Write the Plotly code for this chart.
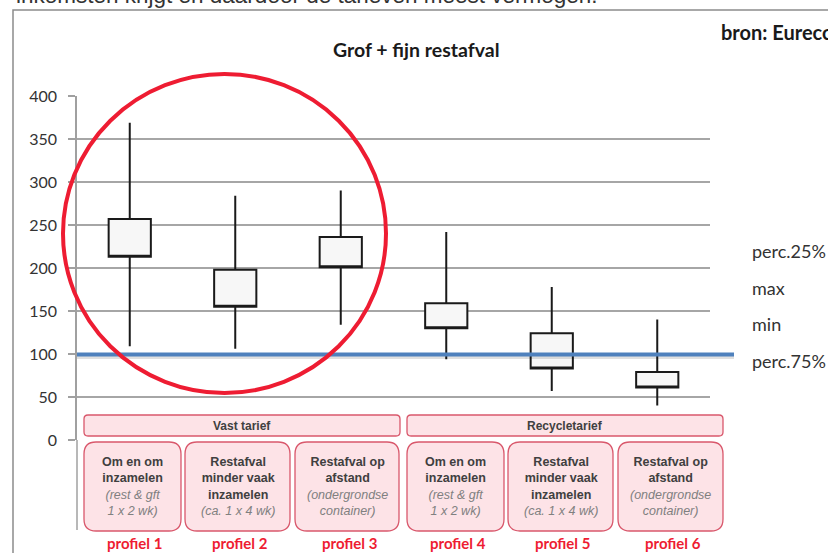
import plotly.graph_objects as go

# stock-style chart values
categories = ["profiel 1", "profiel 2", "profiel 3", "profiel 4", "profiel 5", "profiel 6"]
perc_25 = [213, 155, 201, 130, 83, 61]
perc_75 = [257, 198, 236, 159, 124, 79]
maximum = [369, 284, 290, 242, 178, 140]
minimum = [109, 106, 134, 94, 57, 40]
threshold = 99.5
y_ticks = [0, 50, 100, 150, 200, 250, 300, 350, 400]

groups = ["Vast tarief", "Recycletarief"]
box_titles = [
    "Om en om<br>inzamelen",
    "Restafval<br>minder vaak<br>inzamelen",
    "Restafval op<br>afstand",
] * 2
box_notes = ["(rest & gft<br>1 x 2 wk)", "(ca. 1 x 4 wk)", "(ondergrondse<br>container)"] * 2
legend_labels = ["perc.25%", "max", "min", "perc.75%"]

W, H = 828, 553
L, R, T, B = 77, 710, 96, 440


def px(x):
    return (x - L) / (R - L)


def py(y):
    return (B - y) / (B - T)


def rounded(x0, y0, x1, y1, r):
    p = [
        f"M {px(x0 + r)},{py(y0)}", f"L {px(x1 - r)},{py(y0)}",
        f"Q {px(x1)},{py(y0)} {px(x1)},{py(y0 + r)}", f"L {px(x1)},{py(y1 - r)}",
        f"Q {px(x1)},{py(y1)} {px(x1 - r)},{py(y1)}", f"L {px(x0 + r)},{py(y1)}",
        f"Q {px(x0)},{py(y1)} {px(x0)},{py(y1 - r)}", f"L {px(x0)},{py(y0 + r)}",
        f"Q {px(x0)},{py(y0)} {px(x0 + r)},{py(y0)}", "Z",
    ]
    return " ".join(p)


fig = go.Figure()
fig.add_trace(
    go.Box(
        x=categories,
        q1=perc_25,
        median=perc_25,
        q3=perc_75,
        lowerfence=minimum,
        upperfence=maximum,
        width=0.4,
        whiskerwidth=0,
        fillcolor="#f7f7f7",
        line={"color": "#1a1a1a", "width": 2},
        boxpoints=False,
        showlegend=False,
    )
)

shapes = []
# outer slide frame
shapes.append(dict(type="rect", xref="paper", yref="paper", x0=px(13), x1=px(900), y0=py(600), y1=py(10),
                   line={"color": "#8c8c8c", "width": 1.5}, layer="below"))
# axis line running down past the plot
shapes.append(dict(type="line", xref="paper", yref="paper", x0=0, x1=0, y0=py(440), y1=py(530),
                   line={"color": "#a0a0a0", "width": 1.5}))
# blue reference line with soft shadow
shapes.append(dict(type="line", xref="paper", yref="y", x0=0, x1=px(734), y0=threshold - 3.5, y1=threshold - 3.5,
                   line={"color": "rgba(0,0,0,0.12)", "width": 3}))
shapes.append(dict(type="line", xref="paper", yref="y", x0=0, x1=px(734), y0=threshold, y1=threshold,
                   line={"color": "#4f81bd", "width": 4}))
# red ellipse
shapes.append(dict(type="circle", xref="paper", yref="paper", x0=px(63), x1=px(386), y0=py(393), y1=py(74),
                   line={"color": "#ee1c32", "width": 4}))

pink = "#fde3e7"
edge = "#d9586c"
header_x = [(84, 400), (407, 723)]
for x0, x1 in header_x:
    shapes.append(dict(type="path", xref="paper", yref="paper", path=rounded(x0, 415, x1, 436, 4),
                       fillcolor=pink, line={"color": edge, "width": 1.3}))
cell_x = [(84, 181), (185, 290), (295, 399), (407, 504), (508, 613), (618, 723)]
for x0, x1 in cell_x:
    shapes.append(dict(type="path", xref="paper", yref="paper", path=rounded(x0, 442, x1, 531, 12),
                       fillcolor=pink, line={"color": edge, "width": 1.3}))

annotations = []
annotations.append(dict(text="inkomsten krijgt en daardoor de tarieven meest vermogen.", xref="paper", yref="paper",
                        x=px(14), y=py(-4), xanchor="left", yanchor="middle", showarrow=False,
                        font={"family": "Liberation Sans, Arial", "size": 22.5, "color": "#333333"}))
annotations.append(dict(text="<b>Grof + fijn restafval</b>", xref="paper", yref="paper", x=px(416), y=py(50),
                        xanchor="center", yanchor="middle", showarrow=False,
                        font={"family": "Lato", "size": 19.5, "color": "#1a1a1a"}))
annotations.append(dict(text="<b>bron: Eureco</b>", xref="paper", yref="paper", x=px(719), y=py(32),
                        xanchor="left", yanchor="middle", showarrow=False,
                        font={"family": "Lato", "size": 20, "color": "#1a1a1a"}))
for label, y in zip(legend_labels, [251, 288, 324, 361]):
    annotations.append(dict(text=label, xref="paper", yref="paper", x=px(750), y=py(y), xanchor="left",
                            yanchor="middle", showarrow=False,
                            font={"family": "Lato", "size": 18, "color": "#333333"}))
for name, (x0, x1) in zip(groups, header_x):
    annotations.append(dict(text=f"<b>{name}</b>", xref="paper", yref="paper", x=px((x0 + x1) / 2), y=py(426),
                            xanchor="center", yanchor="middle", showarrow=False,
                            font={"family": "Liberation Sans, Arial", "size": 12, "color": "#404040"}))
for title, note, (x0, x1), cat in zip(box_titles, box_notes, cell_x, categories):
    annotations.append(dict(text=f"<b>{title}</b><br><i><span style='color:#808080'>{note}</span></i>",
                            xref="paper", yref="paper", x=px((x0 + x1) / 2), y=py(486),
                            xanchor="center", yanchor="middle", showarrow=False,
                            font={"family": "Liberation Sans, Arial", "size": 12.5, "color": "#404040"}))
    annotations.append(dict(text=f"<b>{cat}</b>", xref="paper", yref="paper", x=px((x0 + x1) / 2 + 2), y=py(543),
                            xanchor="center", yanchor="middle", showarrow=False,
                            font={"family": "Lato", "size": 15, "color": "#ee1c32"}))

fig.update_layout(
    width=W,
    height=H,
    margin={"l": L, "r": W - R, "t": T, "b": H - B, "pad": 0},
    paper_bgcolor="white",
    plot_bgcolor="white",
    shapes=shapes,
    annotations=annotations,
    showlegend=False,
)
fig.update_xaxes(type="category", range=[-0.5, 5.5], showgrid=False, showticklabels=False, showline=False,
                 zeroline=False, ticks="")
fig.update_yaxes(
    range=[0, 400],
    tickvals=y_ticks,
    showgrid=True,
    gridcolor="#a6a6a6",
    gridwidth=1.5,
    zeroline=True,
    zerolinecolor="white",
    zerolinewidth=2,
    showline=True,
    linecolor="#a0a0a0",
    linewidth=1.5,
    ticks="outside",
    ticklen=7,
    tickcolor="#a0a0a0",
    tickwidth=1.5,
    ticklabelstandoff=8,
    tickfont={"family": "Lato", "size": 16, "color": "#333333"},
)

# the page body has a default margin; drop it so the figure fills the window
fig.write_html(
    "out.html",
    config={"displayModeBar": False},
    post_script="document.body.style.margin = '0';",
)
